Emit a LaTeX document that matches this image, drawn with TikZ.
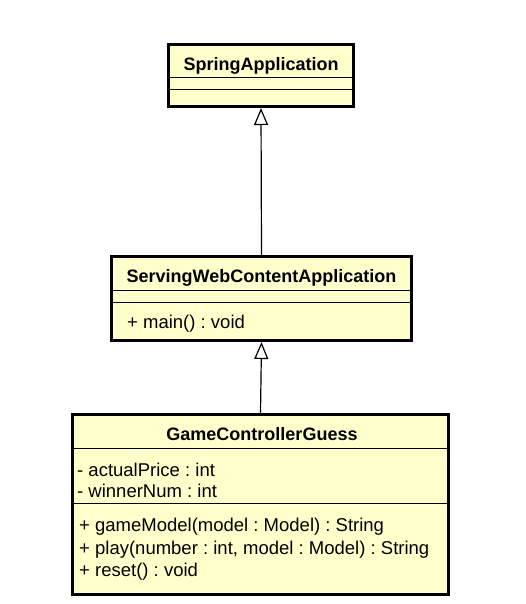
\documentclass[tikz,border=0pt]{standalone}
\usepackage{fontspec}
\setmainfont{Liberation Sans}
\usepackage{xcolor}
\usetikzlibrary{positioning,arrows.meta}
\definecolor{classfill}{HTML}{FFFFCC}
\frenchspacing

\begin{document}
\begin{tikzpicture}[x=1pt,y=-1pt,>={Triangle[fill=white,length=17pt,width=14pt]},
  classbox/.style={draw,line width=3pt,fill=classfill},
  sepline/.style={line width=1pt},
  member/.style={anchor=base west,inner sep=0pt,font=\fontsize{18.5}{22}\selectfont},
  classname/.style={anchor=base,inner sep=0pt,font=\fontsize{18}{22}\selectfont\bfseries}]
  \useasboundingbox (0,0) rectangle (526,604);

  % classes
  \node[classbox,minimum width=185,minimum height=62] (spring) at (261,75.5) {};
  \node[classbox,minimum width=300,minimum height=84] (serving) at (261.5,298.5) {};
  \node[classbox,minimum width=376,minimum height=180] (game) at (260.5,504.5) {};

  \foreach \y in {78,90}
     \draw[sepline] (spring.west |- 0,\y) -- (spring.east |- 0,\y);
  \foreach \y in {290,302}
     \draw[sepline] (serving.west |- 0,\y) -- (serving.east |- 0,\y);
  \draw[sepline] (game.west |- 0,448) -- (game.east |- 0,448);
  \draw[sepline] (game.west |- 0,503) -- (game.east |- 0,503);

  \node[classname] (springname) at (261,71) {SpringApplication};
  \node[classname] (servingname) at (261.5,282) {ServingWebContentApplication};
  \node[member] (main) at (127,328) {+ main() : void};

  \node[classname] (gamename) at (262,440) {GameControllerGuess};
  \node[member] (price) at (77,476) {- actualPrice : int};
  \node[member] (winner) at (77,497) {- winnerNum : int};
  \node[member] (gamemodel) at (79,531) {+ gameModel(model : Model) : String};
  \node[member] (play) at (79,554) {+ play(number : int, model : Model) : String};
  \node[member] (reset) at (79,576) {+ reset() : void};

  % generalisation
  \draw[->,line width=1.2pt] (serving.north) -- (spring.south);
  \draw[->,line width=1.2pt] (game.north) -- (serving.south);
\end{tikzpicture}
\end{document}
